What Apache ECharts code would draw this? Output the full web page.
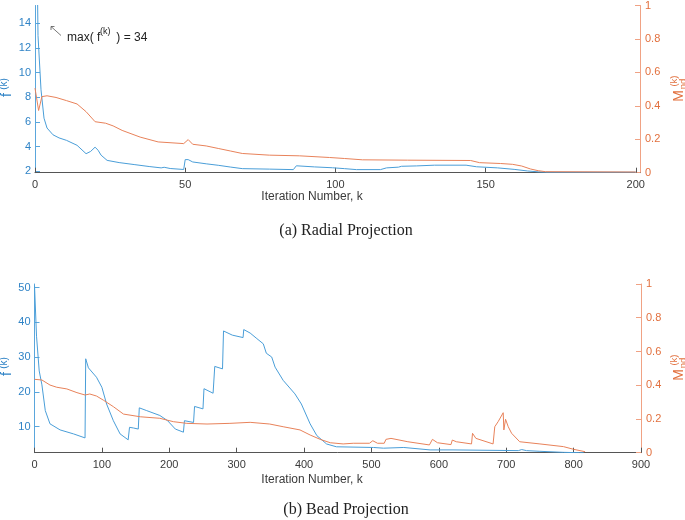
<!DOCTYPE html>
<html><head><meta charset="utf-8">
<script src="https://cdn.jsdelivr.net/npm/echarts@6/dist/echarts.min.js"></script>
<style>html,body{margin:0;padding:0;background:#fff}#c{width:685px;height:520px}</style>
</head><body><div id="c"></div>
<script>
// ---- data: [iteration k, value] ----
const radialF = [[0,34],[1,13],[2,8.6],[3,6.3],[4,5.5],[6,4.95],[8,4.7],[10.5,4.5],[14,4.1],[17,3.42],[18.5,3.6],[20,3.95],[21,3.7],[22,3.3],[24,2.88],[28,2.7],[33,2.54],[38,2.38],[42,2.27],[43,2.32],[45,2.22],[49.5,2.14],[50,2.94],[51,2.94],[52.5,2.75],[57,2.6],[61,2.48],[65,2.34],[69,2.21],[78,2.17],[86,2.13],[87,2.44],[93,2.35],[99,2.28],[103,2.21],[107,2.13],[115,2.13],[117,2.27],[121,2.33],[122,2.4],[127,2.43],[133,2.49],[143.5,2.49],[147,2.36],[154,2.27],[159.5,2.15],[164,2.02],[167.5,1.95],[170,1.92],[200,1.92]];
const radialM = [[0,0.506],[1.2,0.372],[2.3,0.455],[4,0.46],[7,0.45],[10.5,0.431],[14,0.411],[17,0.365],[20,0.305],[23.5,0.296],[26,0.28],[29,0.253],[35,0.213],[41,0.184],[49.5,0.174],[51,0.198],[52.5,0.17],[57,0.16],[61,0.145],[65,0.13],[69,0.115],[78,0.105],[88,0.101],[98,0.091],[103,0.085],[109,0.077],[124,0.075],[145,0.073],[148,0.06],[155,0.055],[159,0.05],[162,0.04],[165,0.022],[167.5,0.012],[170,0.006],[200,0.004]];
const beadF = [[0,50.6],[3,36],[7,26],[11,22],[16,14.6],[23,10.8],[38,9.05],[58,7.9],[75,6.75],[76,29.5],[80,26.9],[92,24.2],[100,21.3],[107,16.5],[117,11.7],[127,7.9],[139,6.2],[141,9.8],[147,9.6],[154,9.3],[155.5,15.4],[166.5,14.6],[186,13.2],[197.5,11.7],[209,9.3],[221,8.4],[222.5,11.7],[236,11.2],[237.5,15.8],[250,15.1],[251.5,20.9],[265,19.6],[267.5,27.3],[279,26.6],[280.5,37.5],[293.5,36.3],[309.5,35.6],[310.5,37.9],[320,36.9],[330,35.3],[339.5,33.8],[344,31.1],[352,30],[357,27.1],[369,23.3],[386.5,19.4],[396,16.5],[409,10.8],[419,7.4],[433.5,5.0],[448,4.2],[503,4.0],[518,3.8],[548,4.0],[587,3.3],[621,3.3],[718,3.1],[723,3.4],[730,3.1],[750,2.9],[785,2.6],[809,2.5],[815,2.5]];
const beadM = [[0,0.435],[11,0.431],[23,0.401],[33,0.388],[48,0.378],[63,0.356],[75,0.342],[82,0.348],[92,0.336],[102,0.312],[117,0.273],[132,0.229],[157,0.213],[186,0.204],[206,0.184],[226,0.174],[256,0.17],[290,0.174],[320,0.18],[349,0.17],[369,0.154],[394,0.135],[409,0.105],[424,0.079],[439,0.059],[458,0.052],[473,0.056],[497,0.056],[502,0.071],[509,0.056],[519,0.056],[521.5,0.079],[529,0.085],[554,0.065],[586,0.046],[590.5,0.079],[598,0.059],[618,0.048],[620,0.075],[626,0.065],[648.5,0.052],[650,0.115],[655,0.085],[680.5,0.052],[683,0.154],[688,0.184],[695.5,0.237],[696.5,0.135],[699,0.198],[703,0.154],[708,0.115],[720,0.065],[750,0.052],[785,0.036],[800,0.02],[817,0.006]];
const radialXTicks = [0,50,100,150,200];
const beadXTicks = [0,100,200,300,400,500,600,700,800,900];
const radialFTicks = [2,4,6,8,10,12,14];
const beadFTicks = [10,20,30,40,50];
const mTicks = [0,0.2,0.4,0.6,0.8,1];
const captions = ['(a) Radial Projection','(b) Bead Projection'];
const xName = 'Iteration Number, k';
const maxNote = ['max( f', '(k)', ' ) = 34'];

const BLUE_LINE='#4a9ed8', BLUE_TXT='#2f83c6', BLUE_AXIS='#5aa6dc';
const ORANGE_LINE='#e8825a', ORANGE_TXT='#e2703e', ORANGE_AXIS='#f0a284';
const GRAY='#3a3a3a', FONT='Liberation Sans';

const chart = echarts.init(document.getElementById('c'));

function xAx(gi, max, ticks){
  return {type:'value', gridIndex:gi, min:0, max:max,
    axisLine:{show:true, lineStyle:{color:'#555', width:1}},
    axisTick:{show:true, inside:true, length:5, customValues:ticks, lineStyle:{color:'#555'}},
    axisLabel:{customValues:ticks, color:GRAY, fontSize:11, margin:7, fontFamily:FONT},
    splitLine:{show:false}};
}
function yLeft(gi, min, max, ticks){
  return {type:'value', gridIndex:gi, position:'left', min:min, max:max,
    axisLine:{show:true, lineStyle:{color:BLUE_AXIS, width:1}},
    axisTick:{show:true, inside:true, length:5, customValues:ticks, lineStyle:{color:BLUE_AXIS}},
    axisLabel:{customValues:ticks, color:BLUE_TXT, fontSize:11, margin:4, fontFamily:FONT},
    splitLine:{show:false}};
}
function yRight(gi){
  return {type:'value', gridIndex:gi, position:'right', min:0, max:1,
    axisLine:{show:true, lineStyle:{color:ORANGE_AXIS, width:1}},
    axisTick:{show:true, inside:true, length:5, customValues:mTicks, lineStyle:{color:ORANGE_AXIS}},
    axisLabel:{customValues:mTicks, color:ORANGE_TXT, fontSize:11, margin:5, fontFamily:FONT},
    splitLine:{show:false}};
}
function line(xi, yi, data, color){
  return {type:'line', xAxisIndex:xi, yAxisIndex:yi, data:data, symbol:'none', showSymbol:false,
    lineStyle:{color:color, width:1}, itemStyle:{color:color}, clip:true, silent:true};
}
function rotText(x, y, text, size, color){
  return {type:'text', x:x, y:y, rotation:Math.PI/2, silent:true,
    style:{text:text, fill:color, font:size+'px '+FONT, textAlign:'center', textVerticalAlign:'middle'}};
}
function fName(yc){
  return [rotText(7.5, yc+7, 'f', 14, BLUE_TXT), rotText(4, yc-4, '(k)', 10, BLUE_TXT)];
}
function mName(yc){
  return [rotText(679.5, yc+8, 'M', 14, ORANGE_TXT), rotText(674.5, yc-7, '(k)', 9.5, ORANGE_TXT), rotText(683, yc-4, 'nd', 9.5, ORANGE_TXT)];
}
function plainText(x, y, text, font, color, align){
  return {type:'text', x:x, y:y, silent:true,
    style:{text:text, fill:color, font:font, textAlign:align||'center', textVerticalAlign:'middle'}};
}

const graphics = [].concat(
  fName(88), fName(367), mName(88), mName(367),
  [plainText(312, 197, xName, '12px '+FONT, GRAY), plainText(312, 480, xName, '12px '+FONT, GRAY),
   plainText(346, 231, captions[0], '16px "Liberation Serif"', '#222'),
   plainText(346, 510, captions[1], '16px "Liberation Serif"', '#222'),
   plainText(67, 38, maxNote[0], '12px '+FONT, '#222', 'left'),
   plainText(100, 31.5, maxNote[1], '9px '+FONT, '#222', 'left'),
   plainText(113, 38, maxNote[2], '12px '+FONT, '#222', 'left'),
   {type:'line', silent:true, shape:{x1:61, y1:35.5, x2:51, y2:26.5}, style:{stroke:'#555', lineWidth:0.8}},
   {type:'polyline', silent:true, shape:{points:[[51,30],[51,26.5],[54.5,26.5]]}, style:{stroke:'#555', lineWidth:0.8, fill:null}}
  ]);

chart.setOption({
  animation:false,
  backgroundColor:'#fff',
  grid:[{left:35, right:45, top:4, height:168.7}, {left:34.5, right:44, top:284, height:168.7}],
  xAxis:[xAx(0, 201.4, radialXTicks), xAx(1, 900, beadXTicks)],
  yAxis:[yLeft(0, 1.88, 15.43, radialFTicks), yRight(0), yLeft(1, 2.5, 51, beadFTicks), yRight(1)],
  series:[line(0,0,radialF,BLUE_LINE), line(0,1,radialM,ORANGE_LINE), line(1,2,beadF,BLUE_LINE), line(1,3,beadM,ORANGE_LINE)],
  graphic:graphics
});
</script></body></html>
